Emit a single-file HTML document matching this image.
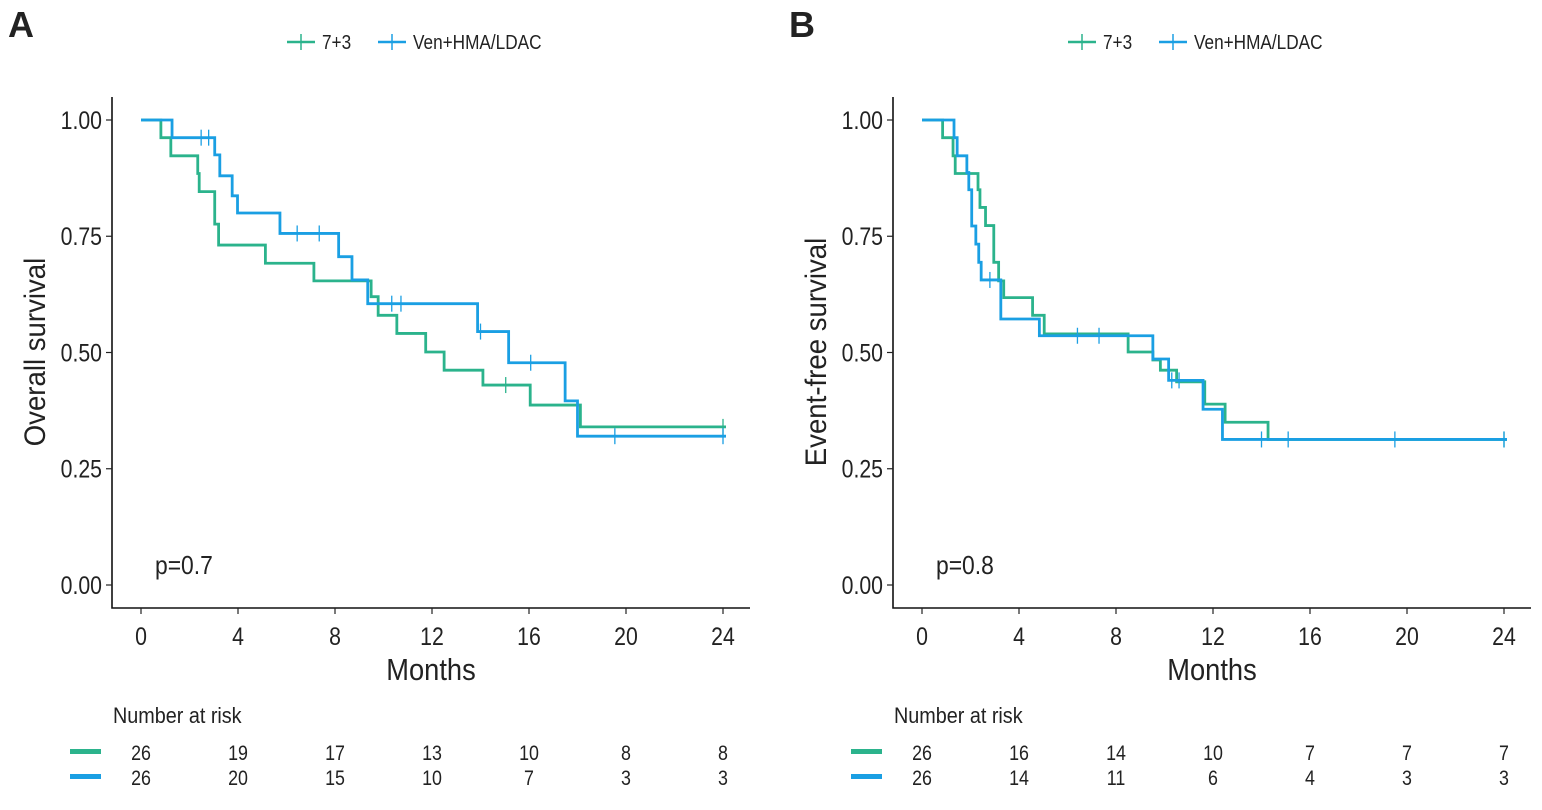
<!DOCTYPE html>
<html><head><meta charset="utf-8"><style>
body{margin:0;background:#fff;width:1542px;height:805px;overflow:hidden}
svg text{font-family:"Liberation Sans",sans-serif;fill:#222}
</style></head><body>
<svg id="c" width="1542" height="805" xmlns="http://www.w3.org/2000/svg"></svg>
<script>
// ---- data ----
const months = [0,4,8,12,16,20,24];
const yTicks = [0,0.25,0.5,0.75,1.0];
const yTickLabels = ["0.00","0.25","0.50","0.75","1.00"];
const groups = ["7+3","Ven+HMA/LDAC"];
// Panel A (overall survival)
const aGreenT = [0,0.82,1.23,2.34,2.4,3.04,3.2,5.13,7.13,9.49,9.78,10.55,11.74,12.5,14.1,16.05,18.12];
const aGreenS = [1,0.962,0.923,0.885,0.846,0.776,0.731,0.692,0.654,0.62,0.58,0.541,0.501,0.462,0.43,0.387,0.34];
const aGreenCens = [15.04,24];
const aBlueT = [0,1.28,3.04,3.25,3.76,3.98,5.73,8.15,8.7,9.35,13.88,15.16,17.49,18.0];
const aBlueS = [1,0.962,0.925,0.88,0.837,0.8,0.756,0.706,0.656,0.605,0.545,0.478,0.396,0.32];
const aBlueCens = [2.48,2.79,6.44,7.35,10.34,10.72,14.0,16.07,19.54,24];
const aRiskGreen = [26,19,17,13,10,8,8];
const aRiskBlue = [26,20,15,10,7,3,3];
// Panel B (event-free survival)
const bGreenT = [0,0.85,1.28,1.37,2.31,2.39,2.62,2.96,3.16,3.37,4.56,5.04,8.5,9.52,9.83,10.5,11.66,12.5,14.27];
const bGreenS = [1,0.962,0.923,0.885,0.85,0.812,0.773,0.694,0.654,0.618,0.58,0.54,0.501,0.484,0.462,0.437,0.389,0.35,0.313];
const bGreenCens = [24];
const bBlueT = [0,1.32,1.45,1.85,1.93,2.05,2.22,2.34,2.44,3.25,4.84,9.52,10.17,11.59,12.39];
const bBlueS = [1,0.962,0.923,0.887,0.85,0.772,0.733,0.694,0.656,0.572,0.536,0.486,0.44,0.378,0.313];
const bBlueCens = [2.8,6.41,7.3,10.3,10.6,14.0,15.1,19.5,24];
const bRiskGreen = [26,16,14,10,7,7,7];
const bRiskBlue = [26,14,11,6,4,3,3];

const GREEN="#2bb38c", BLUE="#1a9fe3";
const svg=document.getElementById('c');
const NS="http://www.w3.org/2000/svg";
function mk(tag,attrs,parent){const e=document.createElementNS(NS,tag);for(const k in attrs)e.setAttribute(k,attrs[k]);(parent||svg).appendChild(e);return e;}
function txt(s,attrs,parent){const e=mk('text',attrs,parent);e.textContent=s;return e;}
function sx(x0,k){return `translate(${x0} 0) scale(${k} 1) translate(${-x0} 0)`;}

function panel(off,letter,ytitle,pval,gT,gS,gC,bT,bS,bC,rG,rB,pname){
  const g=mk('g',{});
  
  
  const x=t=>off+141+t*24.25;
  const y=s=>120+(1-s)*465;
  const L=txt(letter,{x:off+8,y:37,'font-size':36,'font-weight':'bold'},g);
  
  
  const lg=mk('g',{},g);
  
  
  [[GREEN,287,groups[0],322],[BLUE,378,groups[1],413]].forEach(([c,lx,lab,tx])=>{
    const e=mk('g',{},lg);
    
    
    mk('line',{x1:off+lx,y1:42,x2:off+lx+28,y2:42,stroke:c,'stroke-width':2.5},e);
    mk('line',{x1:off+lx+14,y1:34,x2:off+lx+14,y2:50,stroke:c,'stroke-width':1.5},e);
    txt(lab,{x:off+tx,y:49,'font-size':20,transform:sx(off+tx,0.86)},e);
  });
  const ax=mk('path',{d:`M${off+112} 97 V608 H${off+750}`,fill:'none',stroke:'#111','stroke-width':1.6},g);
  
  
  yTicks.forEach((v,i)=>{
    mk('line',{x1:off+106,y1:y(v),x2:off+112,y2:y(v),stroke:'#222','stroke-width':1.2},g);
    const t=txt(yTickLabels[i],{x:off+102,y:y(v)+9,'font-size':25,'text-anchor':'end',transform:sx(off+102,0.85)},g);
    
    
  });
  months.forEach(m=>{
    mk('line',{x1:x(m),y1:608,x2:x(m),y2:614,stroke:'#222','stroke-width':1.2},g);
    const t=txt(String(m),{x:x(m),y:645,'font-size':25,'text-anchor':'middle',transform:sx(x(m),0.85)},g);
    
    
  });
  const xt=txt('Months',{x:off+431,y:680,'font-size':31,'text-anchor':'middle',transform:sx(off+431,0.88)},g);
  
  
  const yt=txt(ytitle,{x:0,y:0,'font-size':30,'text-anchor':'middle',transform:`translate(${off+45} 352) rotate(-90) scale(0.92 1)`},g);
  
  
  const pv=txt(pval,{x:off+155,y:574,'font-size':26,transform:sx(off+155,0.88)},g);
  
  
  function curve(T,S,C,col,name){
    let d=`M${x(T[0])} ${y(S[0])}`;
    for(let i=1;i<T.length;i++){d+=` H${x(T[i])} V${y(S[i])}`;}
    d+=` H${x(24)+3}`;
    const p=mk('path',{d,fill:'none',stroke:col,'stroke-width':2.8},g);
    
    
    C.forEach(c=>{
      let s=S[0];for(let i=0;i<T.length;i++){if(T[i]<=c)s=S[i];}
      const m=mk('line',{x1:x(c),y1:y(s)-8,x2:x(c),y2:y(s)+8,stroke:col,'stroke-width':1.3},g);
      
      
    });
  }
  curve(gT,gS,gC,GREEN,'curve-7plus3');
  curve(bT,bS,bC,BLUE,'curve-ven-hma-ldac');
  const rt=mk('g',{},g);
  
  
  txt('Number at risk',{x:off+113,y:723,'font-size':22,transform:sx(off+113,0.9)},rt);
  [[rG,GREEN,752],[rB,BLUE,777]].forEach(([arr,col,yy])=>{
    mk('rect',{x:off+70,y:yy-3,width:31,height:5,fill:col},rt);
    arr.forEach((v,i)=>{
      const t=txt(String(v),{x:x(months[i]),y:yy+8,'font-size':21,'text-anchor':'middle',transform:sx(x(months[i]),0.85)},rt);
      
      
    });
  });
}
panel(0,'A','Overall survival','p=0.7',aGreenT,aGreenS,aGreenCens,aBlueT,aBlueS,aBlueCens,aRiskGreen,aRiskBlue,'panel-a-overall-survival');
panel(781,'B','Event-free survival','p=0.8',bGreenT,bGreenS,bGreenCens,bBlueT,bBlueS,bBlueCens,bRiskGreen,bRiskBlue,'panel-b-event-free-survival');
</script>
</body></html>
